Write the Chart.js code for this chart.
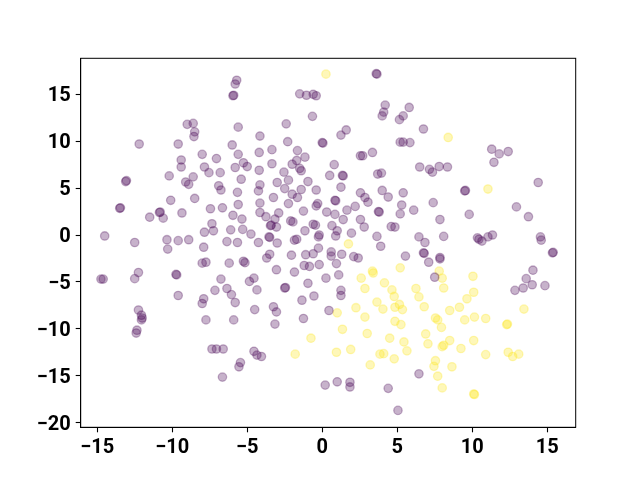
<!DOCTYPE html>
<html>
<head>
<meta charset="utf-8">
<script src="https://cdn.jsdelivr.net/npm/chart.js@4/dist/chart.umd.min.js"></script>
<style>html,body{margin:0;padding:0;background:#fff;}canvas{display:block;}</style>
</head>
<body>
<canvas id="c" width="640" height="480"></canvas>
<script>
const xTicks = [-15, -10, -5, 0, 5, 10, 15];
const yTicks = [-20, -15, -10, -5, 0, 5, 10, 15];
const classNames = ["class 0", "class 1"];

const purplePts = [
[-9.0,11.8],[-8.6,11.9],[-8.5,11.0],[-8.55,10.5],[-12.2,9.7],[-9.6,9.7],[-9.4,8.0],[-9.4,7.25],[-10.2,6.3],[-8.6,6.2],[-9.1,5.65],[-8.9,5.4],[-13.1,5.7],[-13.05,5.8],[-10.1,3.7],[-8.5,3.9],[-13.5,2.85],[-13.45,2.9],[-10.85,2.4],[-10.8,2.45],[-11.5,1.9],[-10.6,1.8],[-9.35,2.35],[-14.5,-0.1],[-12.5,-0.8],[-10.35,-0.5],[-9.6,-0.6],[-8.9,-0.5],
[-5.7,16.5],[-5.8,16.1],[-5.95,14.85],[-5.9,14.9],[-1.5,15.05],[-1.05,14.9],[-0.6,15.0],[-0.4,14.85],[-0.65,12.65],[-5.6,11.5],[-2.4,11.85],[-4.15,10.55],[-2.3,9.95],[0.0,9.85],[0.05,9.8],[-6.0,9.6],[-8.0,8.6],[-7.05,8.15],[-5.6,8.6],[-4.2,8.8],[-3.35,9.1],[-1.65,9.0],[-1.15,8.3],[-1.7,7.95],[-2.0,7.55],[-1.5,7.1],[-1.4,6.85],[-5.25,7.7],[-5.0,7.3],[-5.8,7.2],[-3.35,7.6],[-7.85,7.25],[-7.55,6.65],[-6.8,6.65],[-4.2,6.9],[-2.55,6.7],[-5.4,5.95],[-2.25,5.85],[-0.95,5.7],[-6.9,5.25],[-6.75,4.8],[-5.65,4.55],[-4.15,5.35],[-4.25,4.7],[-3.0,5.6],[-2.5,4.95],[-1.4,4.85],[-0.4,4.8],[-3.25,4.0],[-2.0,4.35],[-1.65,4.0],[-5.6,3.25],[-4.15,3.4],[-2.25,3.35],[-0.4,3.1],[-0.3,3.35],[-7.45,2.8],[-6.65,2.9],[-4.15,2.4],[-3.75,1.95],[-2.9,2.35],[-3.15,1.7],[-3.4,1.05],[-3.45,1.0],[-3.05,0.85],[-1.25,2.55],[-5.95,2.1],[-5.35,1.7],[-2.1,1.5],[-1.95,1.4],[-7.35,1.2],[-7.25,0.45],[-6.1,0.55],[-5.3,0.6],[-4.75,0.1],[-0.6,1.15],[-0.45,1.05],[-1.15,0.45],[-0.25,-0.2],[-0.2,0.0],[-7.85,0.3],[-3.55,-0.2],[-3.5,-0.25],[-6.35,-0.7],[-5.65,-0.8],[-4.25,-0.8],[-3.0,-0.85],[-1.85,-0.55],[-1.7,-0.45],
[3.65,17.15],[3.6,17.2],[4.2,13.85],[4.1,13.1],[4.0,12.7],[5.8,13.6],[5.4,12.7],[5.15,12.3],[1.6,11.2],[1.25,10.65],[6.75,11.3],[5.2,9.9],[5.4,9.9],[5.85,9.85],[2.55,8.45],[2.7,8.45],[3.35,8.8],[0.8,7.5],[6.5,7.25],[7.15,7.0],[7.35,6.7],[7.8,7.3],[8.35,7.25],[0.5,6.35],[1.4,6.3],[1.35,6.35],[3.7,6.5],[3.95,6.6],[1.25,5.1],[4.0,4.75],[4.4,4.05],[5.4,4.5],[2.55,4.5],[2.85,4.0],[3.05,3.5],[0.85,3.7],[0.9,3.65],[2.2,3.05],[1.65,2.65],[0.3,2.45],[0.85,2.2],[3.75,2.5],[3.8,2.45],[5.3,3.2],[5.2,2.25],[6.1,2.65],[7.4,3.45],[1.4,1.65],[2.55,1.65],[2.8,0.85],[4.6,0.9],[4.85,0.85],[7.85,1.65],[0.65,1.0],[1.0,0.45],[0.9,-0.1],[1.95,0.2],[3.65,-0.15],[6.45,-0.2],[6.85,-0.8],[8.1,-0.15],
[11.3,9.15],[11.8,8.65],[12.4,8.9],[11.45,7.75],[14.4,5.6],[9.5,4.7],[9.55,4.75],[12.95,3.0],[13.75,1.95],[9.8,2.2],[10.35,-0.3],[10.45,-0.45],[10.65,-0.65],[11.05,-0.2],[11.35,0.0],[14.55,-0.2],[14.6,-0.55],
[-10.3,-1.5],[-7.9,-1.3],[-8.0,-3.0],[-7.75,-2.9],[-14.75,-4.7],[-14.6,-4.7],[-12.5,-4.65],[-12.25,-4.0],[-9.75,-4.2],[-9.7,-4.25],[-9.6,-6.45],[-8.0,-7.3],[-7.9,-6.8],[-7.75,-9.05],[-12.25,-8.0],[-12.05,-8.55],[-12.0,-8.85],[-12.05,-9.05],[-12.35,-10.15],[-12.4,-10.45],
[-0.25,-1.4],[-2.05,-2.15],[-1.1,-2.1],[-0.6,-2.0],[-6.2,-3.0],[-5.25,-2.8],[-5.15,-2.95],[-3.5,-2.05],[-3.7,-2.45],[-3.05,-3.7],[-1.85,-3.95],[-1.2,-3.25],[-0.85,-3.35],[-0.2,-3.15],[-6.75,-4.7],[-7.15,-5.9],[-6.35,-5.7],[-6.05,-6.35],[-5.8,-7.2],[-4.85,-4.95],[-4.55,-4.6],[-4.35,-5.85],[-2.5,-5.65],[-2.45,-5.6],[-0.95,-5.15],[-0.55,-6.5],[-1.35,-6.95],[-4.5,-7.95],[-3.25,-7.65],[-3.05,-8.2],[-5.9,-9.05],[-3.15,-9.5],[-1.25,-8.9],[-7.35,-12.15],[-7.05,-12.15],[-6.6,-12.15],[-4.55,-12.4],[-4.35,-12.8],[-4.05,-12.95],[-5.45,-13.6],[-5.55,-14.05],[-6.65,-15.15],
[3.9,-1.2],[0.6,-1.8],[0.6,-2.25],[1.3,-2.05],[2.1,-2.3],[2.4,-2.45],[5.55,-2.25],[6.75,-1.9],[6.8,-1.95],[7.1,-2.9],[7.85,-2.4],[7.85,-2.55],[0.95,-3.05],[0.25,-4.6],[1.1,-4.25],[1.25,-5.9],[1.25,-6.45],[0.45,-8.05],[7.5,-4.5],[6.45,-14.8],[0.2,-16.0],[1.0,-15.65],[1.85,-15.7],[1.85,-16.2],[4.4,-16.35],[5.05,-18.7],
[15.35,-1.9],[15.4,-1.85],[14.05,-3.75],[13.6,-4.65],[14.0,-5.3],[13.4,-5.65],[12.85,-5.9],[14.85,-5.4]
];

const yellowPts = [
[0.25,17.15],[8.4,10.4],[11.05,4.9],[-0.75,-11.0],[-1.8,-12.7],[1.75,-0.95],[3.35,-3.85],[3.4,-4.05],[5.2,-3.5],[2.6,-4.6],[4.15,-5.1],[2.85,-5.7],[4.65,-5.85],[4.8,-6.55],[3.65,-7.15],[4.05,-7.9],[5.15,-7.4],[4.85,-7.7],[5.35,-7.95],[7.8,-3.85],[8.0,-4.6],[8.1,-5.65],[6.25,-5.7],[6.45,-6.6],[6.8,-7.65],[2.25,-7.75],[1.0,-8.3],[2.85,-8.75],[4.85,-9.2],[5.25,-9.55],[7.55,-8.85],[7.7,-9.05],[7.95,-9.85],[8.5,-8.05],[1.35,-10.05],[3.0,-10.5],[4.5,-11.0],[5.45,-11.4],[5.65,-12.35],[6.9,-10.55],[7.05,-11.6],[8.0,-11.9],[8.1,-11.75],[8.5,-11.25],[1.9,-12.2],[0.95,-12.5],[3.85,-12.7],[4.1,-12.65],[4.8,-13.2],[3.2,-13.85],[7.55,-13.4],[7.45,-14.0],[8.65,-14.05],[7.7,-15.05],[8.0,-16.3],
[10.05,-4.4],[10.1,-6.1],[9.65,-6.8],[9.15,-7.7],[10.15,-8.75],[9.5,-9.05],[10.9,-8.9],[12.35,-9.5],[12.3,-9.55],[13.45,-7.9],[10.1,-11.25],[9.25,-12.1],[10.9,-12.75],[12.4,-12.5],[12.7,-12.95],[13.1,-12.7],[10.15,-17.0],[10.1,-16.95]
];

const toXY = pts => pts.map(p => ({x: p[0], y: p[1]}));
const fmt = v => (v < 0 ? '\u2212' + Math.abs(v) : String(v));

const framePlugin = {
  id: 'frame',
  afterDraw(chart) {
    const a = chart.chartArea, ctx = chart.ctx;
    ctx.save();
    ctx.strokeStyle = '#000';
    ctx.lineWidth = 1;
    ctx.strokeRect(a.left, a.top, a.right - a.left, a.bottom - a.top);
    ctx.restore();
  }
};

const tickFont = {family: 'Roboto', size: 20, weight: 'bold'};

new Chart(document.getElementById('c'), {
  type: 'scatter',
  data: {
    datasets: [
      {label: classNames[0], data: toXY(purplePts), backgroundColor: 'rgba(68,1,84,0.3)', borderColor: 'rgba(68,1,84,0.3)', borderWidth: 1.3, pointRadius: 4.2, pointHoverRadius: 4.2},
      {label: classNames[1], data: toXY(yellowPts), backgroundColor: 'rgba(253,231,37,0.32)', borderColor: 'rgba(253,231,37,0.32)', borderWidth: 1.3, pointRadius: 4.2, pointHoverRadius: 4.2}
    ]
  },
  options: {
    responsive: false,
    animation: false,
    events: [],
    layout: {padding: {top: 58.3, right: 64.3, bottom: 0, left: 0}},
    plugins: {legend: {display: false}, tooltip: {enabled: false}},
    scales: {
      x: {
        type: 'linear', min: -16.1, max: 16.9,
        afterBuildTicks: s => { s.ticks = xTicks.map(v => ({value: v})); },
        afterFit: s => { s.height = 52.7; },
        grid: {display: true, drawOnChartArea: false, drawTicks: true, tickLength: 5, tickWidth: 1.1, tickColor: '#000'},
        border: {display: true, color: '#000', width: 1},
        ticks: {color: '#000', font: tickFont, padding: 4, maxRotation: 0, callback: v => fmt(v)}
      },
      y: {
        type: 'linear', min: -20.5, max: 18.84,
        afterBuildTicks: s => { s.ticks = yTicks.map(v => ({value: v})); },
        afterFit: s => { s.width = 80.7; },
        grid: {display: true, drawOnChartArea: false, drawTicks: true, tickLength: 5, tickWidth: 1.1, tickColor: '#000'},
        border: {display: true, color: '#000', width: 1},
        ticks: {color: '#000', font: tickFont, padding: 5, labelOffset: 2, callback: v => fmt(v)}
      }
    }
  },
  plugins: [framePlugin]
});
</script>
</body>
</html>
